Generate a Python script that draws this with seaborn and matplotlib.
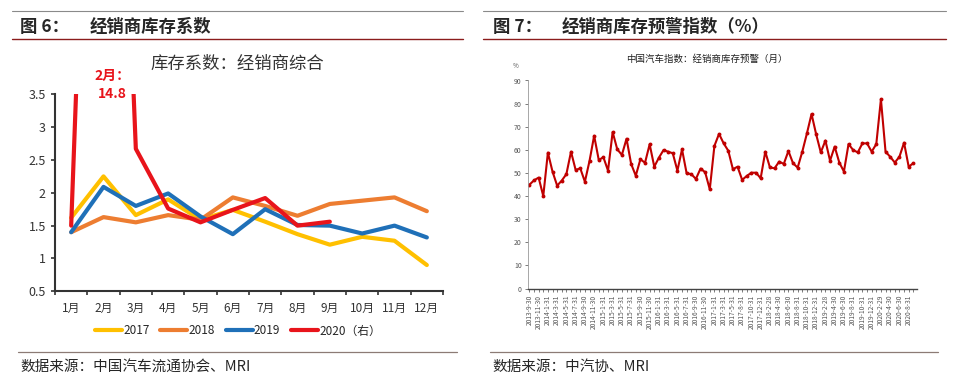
import numpy as np
import pandas as pd
import seaborn as sns
import matplotlib.pyplot as plt
from matplotlib.lines import Line2D

# ---- left chart data: 经销商库存系数 ----
months = ['1月', '2月', '3月', '4月', '5月', '6月', '7月', '8月', '9月', '10月', '11月', '12月']
inv_2017 = [1.62, 2.25, 1.66, 1.90, 1.59, 1.74, 1.56, 1.37, 1.21, 1.33, 1.27, 0.90]
inv_2018 = [1.40, 1.63, 1.55, 1.66, 1.59, 1.93, 1.80, 1.65, 1.83, 1.88, 1.93, 1.72]
inv_2019 = [1.40, 2.09, 1.80, 1.99, 1.64, 1.37, 1.75, 1.51, 1.50, 1.38, 1.50, 1.32]
inv_2020 = [1.50, 14.8, 2.67, 1.76, 1.55, 1.74, 1.92, 1.50, 1.56]
year_labels = ['2017', '2018', '2019', '2020（右）']
year_colors = ['#FFC000', '#ED7D31', '#1F70B8', '#E8141B']

# ---- right chart data: 经销商库存预警指数 ----
warn_dates = ([f'2013-{m}' for m in range(9, 13)]
              + [f'{y}-{m}' for y in range(2014, 2017) for m in range(1, 13)]
              + ['2017-1', '2017-2', '2017-3', '2017-4', '2017-5', '2017-7',
                 '2017-8', '2017-9', '2017-10', '2017-11', '2017-12']
              + [f'{y}-{m}' for y in range(2018, 2020) for m in range(1, 13)]
              + [f'2020-{m}' for m in range(1, 10)])
warn_values = [44.9, 46.8, 48.0, 40.0, 58.8, 50.6, 44.5, 46.7, 49.5, 59.2,
               51.3, 52.0, 46.2, 55.2, 66.1, 55.6, 56.8, 51.0, 67.7, 60.2,
               57.8, 64.8, 53.9, 48.8, 55.9, 54.4, 62.4, 52.7, 56.6, 59.9,
               59.2, 58.5, 51.0, 60.2, 49.8, 49.5, 47.4, 51.9, 50.3, 42.9,
               61.7, 66.9, 62.8, 59.6, 51.6, 52.7, 47.0, 48.7, 50.1, 50.1,
               47.7, 59.2, 52.4, 52.0, 54.9, 53.9, 59.5, 54.2, 52.3, 59.2,
               67.1, 75.5, 66.7, 58.9, 64.0, 55.3, 61.4, 54.5, 50.6, 62.5,
               59.9, 58.9, 62.8, 62.8, 59.2, 62.5, 81.9, 59.2, 57.0, 54.5,
               57.0, 63.1, 52.7, 54.2]
month_end = {1: 31, 2: 28, 3: 31, 4: 30, 5: 31, 6: 30, 7: 31, 8: 31, 9: 30, 10: 31, 11: 30, 12: 31}


def date_label(s):
    y, m = map(int, s.split('-'))
    d = 29 if (m == 2 and y % 4 == 0) else month_end[m]
    return f'{y}-{m}-{d}'


sns.set_style('white')
plt.rcParams['font.family'] = ['Noto Sans CJK SC', 'DejaVu Sans']

fig = plt.figure(figsize=(9.6, 3.87), dpi=100)


def hline(x0, x1, y, color, lw):
    fig.add_artist(Line2D([x0 / 960, x1 / 960], [1 - y / 387, 1 - y / 387],
                          color=color, lw=lw, transform=fig.transFigure))


# header / footer decorations
for x0, x1 in [(12, 463), (483, 946)]:
    hline(x0, x1, 11, '#8a8a8a', 0.8)
    hline(x0, x1, 39, '#8b1c1c', 1.0)
hline(18, 457, 352, '#8c7b75', 0.9)
hline(490, 938, 352, '#8c7b75', 0.9)

fig.text(20 / 960, 1 - 27 / 387, '图 6：', fontsize=12.5, fontweight='bold', va='center')
fig.text(90 / 960, 1 - 27 / 387, '经销商库存系数', fontsize=12.5, fontweight='bold', va='center')
fig.text(493 / 960, 1 - 27 / 387, '图 7：', fontsize=12.5, fontweight='bold', va='center')
fig.text(562 / 960, 1 - 27 / 387, '经销商库存预警指数（%）', fontsize=12.5, fontweight='bold', va='center')
fig.text(20 / 960, 1 - 367 / 387, '数据来源：中国汽车流通协会、MRI', fontsize=10.5, va='center')
fig.text(492 / 960, 1 - 367 / 387, '数据来源：中汽协、MRI', fontsize=10.5, va='center')

# ---- left chart ----
ax1 = fig.add_axes([55 / 960, 1 - 291.3 / 387, 388 / 960, 197 / 387])
rows = []
for lab, vals in zip(year_labels, [inv_2017, inv_2018, inv_2019, inv_2020]):
    for i, v in enumerate(vals):
        rows.append({'month': i, 'value': v, 'year': lab})
df = pd.DataFrame(rows)
sns.lineplot(data=df, x='month', y='value', hue='year', palette=year_colors,
             linewidth=3, ax=ax1, sort=False)
ax1.set_xlim(-0.5, 11.5)
ax1.set_ylim(0.5, 3.5)
ax1.set_yticks([0.5, 1, 1.5, 2, 2.5, 3, 3.5])
ax1.set_yticklabels(['0.5', '1', '1.5', '2', '2.5', '3', '3.5'], fontsize=9, color='#333333')
ax1.set_xticks(np.arange(-0.5, 12, 1))
ax1.set_xticklabels([])
ax1.set_xticks(np.arange(12), minor=True)
ax1.set_xticklabels(months, minor=True, fontsize=8.5, color='#333333')
ax1.tick_params(axis='x', which='minor', length=0, pad=8)
ax1.tick_params(axis='both', which='major', length=3, width=1.2, color='#333333', direction='out')
ax1.tick_params(axis='x', which='major', bottom=True)
ax1.tick_params(axis='y', left=True)
for s in ['top', 'right']:
    ax1.spines[s].set_visible(False)
for s in ['left', 'bottom']:
    ax1.spines[s].set_color('#333333')
    ax1.spines[s].set_linewidth(1.5)
ax1.set_xlabel('')
ax1.set_ylabel('')
ax1.text(1.28, 3.64, '2月：\n14.8', color='#E8141B', fontsize=10, fontweight='bold',
         ha='center', va='center', clip_on=False, linespacing=1.4)
fig.text(237 / 960, 1 - 64 / 387, '库存系数：经销商综合', fontsize=12.5, color='#333333',
         ha='center', va='center')
handles, labels = ax1.get_legend_handles_labels()
ax1.get_legend().remove()
fig.legend(handles, labels, loc='center', bbox_to_anchor=(238 / 960, 1 - 331 / 387),
           ncol=4, frameon=False, fontsize=8.5, handlelength=2.3, columnspacing=0.9,
           handletextpad=0.1)

# ---- right chart ----
ax2 = fig.add_axes([528 / 960, 1 - 288.5 / 387, 389 / 960, 208 / 387])
xs = np.arange(len(warn_values))
sns.lineplot(x=xs, y=warn_values, color='#C00000', linewidth=1.5, marker='o',
             markersize=2.8, markeredgewidth=0, ax=ax2)
ax2.set_xlim(-0.3, len(warn_values) - 0.2)
ax2.set_ylim(0, 90)
ax2.set_yticks(range(0, 91, 10))
ax2.set_yticklabels([str(v) for v in range(0, 91, 10)], fontsize=5, color='#555555')
ax2.set_xticks(xs)
ax2.set_xticklabels([date_label(d) if i % 2 == 0 else '' for i, d in enumerate(warn_dates)],
                    rotation=90, fontsize=4.8, color='#555555')
ax2.tick_params(axis='both', length=2.5, width=0.6, color='#666666', direction='out', pad=2)
ax2.tick_params(axis='x', bottom=True)
ax2.tick_params(axis='y', left=True)
for s in ['top', 'right']:
    ax2.spines[s].set_visible(False)
ax2.spines['left'].set_color('#999999')
ax2.spines['left'].set_linewidth(0.6)
ax2.spines['bottom'].set_color('#444444')
ax2.spines['bottom'].set_linewidth(1.0)
fig.text(516 / 960, 1 - 66 / 387, '%', fontsize=4.5, color='#555555', ha='center', va='center')
fig.text(707 / 960, 1 - 59 / 387, '中国汽车指数：经销商库存预警（月）', fontsize=6.8,
         color='#222222', ha='center', va='center')

fig.savefig('out.png', dpi=100)
